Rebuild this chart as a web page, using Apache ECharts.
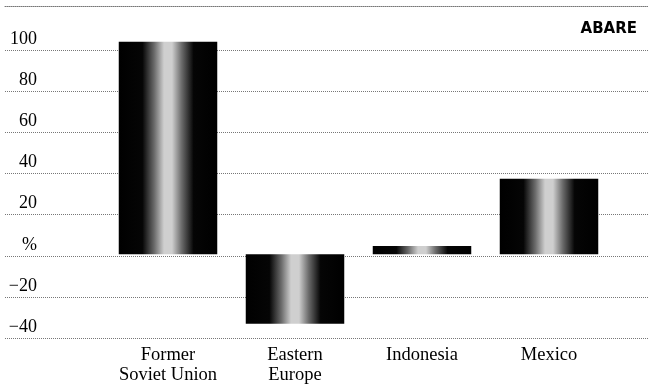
<!DOCTYPE html>
<html>
<head>
<meta charset="utf-8">
<script src="https://cdn.jsdelivr.net/npm/echarts@6/dist/echarts.min.js"></script>
<style>
  html, body { margin: 0; padding: 0; background: #fff; }
  #chart { width: 648px; height: 385px; }
</style>
</head>
<body>
<div id="chart"></div>
<script>
// Change in output, per cent
const categories = ['Former\nSoviet Union', 'Eastern\nEurope', 'Indonesia', 'Mexico'];
const changePct = [104, -34, 4, 37];
const yTicks = [-40, -20, 0, 20, 40, 60, 80, 100];
const sourceLabel = 'ABARE';

const Y_MIN = -40, Y_MAX = 122;
const PLOT_TOP = 5, PLOT_BOTTOM = 47, H = 385;
const pxPerUnit = (H - PLOT_TOP - PLOT_BOTTOM) / (Y_MAX - Y_MIN);
const rulesTop = H - PLOT_BOTTOM - (100 - Y_MIN) * pxPerUnit;
const serif = '"Liberation Serif", "Times New Roman", serif';
const ruleStyle = { color: '#777', type: [1, 1], width: 1 };

const barFill = new echarts.graphic.LinearGradient(0, 0, 1, 0, [
  { offset: 0, color: '#000' },
  { offset: 0.24, color: '#050505' },
  { offset: 0.36, color: '#6a6a6a' },
  { offset: 0.46, color: '#cfcfcf' },
  { offset: 0.54, color: '#cfcfcf' },
  { offset: 0.64, color: '#6a6a6a' },
  { offset: 0.76, color: '#050505' },
  { offset: 1, color: '#000' }
]);

const chart = echarts.init(document.getElementById('chart'), null, { renderer: 'canvas' });

chart.setOption({
  animation: false,
  backgroundColor: '#fff',
  grid: [
    { left: 5, right: 0, top: rulesTop, bottom: PLOT_BOTTOM },        // rules and value labels
    { left: 104.5, right: 35.5, top: PLOT_TOP, bottom: PLOT_BOTTOM }, // bars
    { left: 5, right: 0, top: PLOT_TOP, height: 1 }                   // top frame rule
  ],
  title: {
    text: sourceLabel,
    right: 6, top: 17,
    textStyle: { fontFamily: '"DejaVu Sans", sans-serif', fontWeight: 900, fontSize: 15, color: '#000' }
  },
  xAxis: [
    { type: 'value', gridIndex: 0, show: false, min: 0, max: 1 },
    {
      type: 'category', gridIndex: 1, data: categories,
      axisLine: { show: false }, axisTick: { show: false },
      axisLabel: {
        margin: 9, fontFamily: serif, fontSize: 18.5, lineHeight: 20,
        color: '#000', interval: 0
      }
    },
    {
      type: 'value', gridIndex: 2, position: 'top', min: 0, max: 1,
      axisLine: { show: true, lineStyle: ruleStyle },
      axisTick: { show: false }, axisLabel: { show: false }, splitLine: { show: false }
    }
  ],
  yAxis: [
    {
      type: 'value', gridIndex: 0, min: Y_MIN, max: 100, interval: 20,
      axisLine: { show: false }, axisTick: { show: false },
      splitLine: { show: true, lineStyle: ruleStyle },
      axisLabel: {
        inside: true, align: 'right', verticalAlign: 'bottom', margin: 32,
        padding: [0, 0, 2, 0],
        fontFamily: serif, fontSize: 18, lineHeight: 18, color: '#000',
        formatter: v => {
          if (!yTicks.includes(v)) return '';
          if (v === 0) return '%';
          return v < 0 ? '\u2212' + Math.abs(v) : String(v);
        }
      }
    },
    {
      type: 'value', gridIndex: 1, min: Y_MIN, max: Y_MAX, interval: 20,
      show: false, splitLine: { show: false }
    },
    { type: 'value', gridIndex: 2, show: false, splitLine: { show: false } }
  ],
  series: [
    {
      type: 'bar', xAxisIndex: 1, yAxisIndex: 1,
      data: changePct, barWidth: 98.5,
      itemStyle: { color: barFill }
    }
  ]
});
</script>
</body>
</html>
